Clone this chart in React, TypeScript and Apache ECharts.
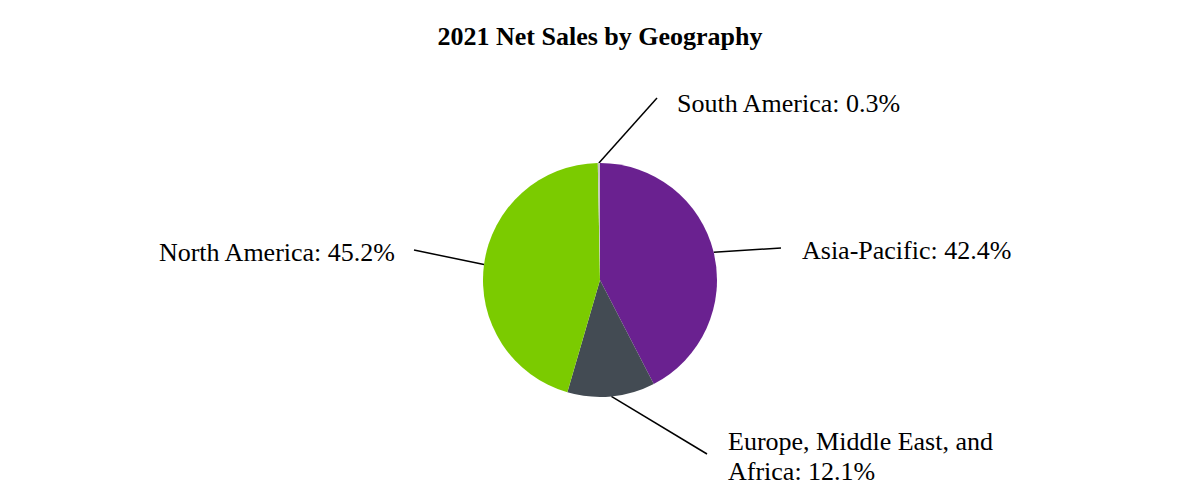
import React, { useEffect, useRef } from "react";
import * as echarts from "echarts";

const categories = ["Asia-Pacific", "Europe, Middle East, and Africa", "North America", "South America"];
const shares = [42.4, 12.1, 45.2, 0.3];
const colors = ["#6a2190", "#434b53", "#7bcb00", "#c4c4c4"];

// label anchor (end of leader line) and text position, layout only
const labelAnchors = [
  { lx: 781, ly: 248, tx: 802, ty: 250, align: "left" },
  { lx: 707, ly: 454, tx: 728, ty: 456, align: "left" },
  { lx: 414, ly: 250, tx: 395, ty: 252, align: "right" },
  { lx: 657, ly: 98, tx: 677, ty: 103, align: "left" },
];

export default function App() {
  const ref = useRef<HTMLDivElement>(null);
  useEffect(() => {
    document.body.style.margin = "0";
    const chart = echarts.init(ref.current!, null, { renderer: "svg" });
    const font = "'Liberation Serif', 'Times New Roman', serif";
    chart.setOption({
      animation: false,
      title: {
        text: "2021 Net Sales by Geography",
        left: "center",
        top: 18,
        textStyle: { fontFamily: font, fontSize: 26, fontWeight: "bold", color: "#000" },
      },
      series: [
        {
          type: "pie",
          center: [600, 280],
          radius: 117,
          startAngle: 90,
          clockwise: true,
          avoidLabelOverlap: false,
          data: categories.map((name, i) => ({
            name,
            value: shares[i],
            itemStyle: { color: colors[i] },
            label: i === 1 ? { width: 285, overflow: "break" } : {},
          })),
          label: {
            show: true,
            formatter: "{b}: {c}%",
            fontFamily: font,
            fontSize: 26,
            color: "#000",
            lineHeight: 30,
          },
          labelLine: {
            show: true,
            length: 20,
            length2: 0,
            lineStyle: { color: "#000", width: 1.5 },
          },
          labelLayout: (params: any) => {
            const a = labelAnchors[params.dataIndex];
            const start = params.labelLinePoints ? params.labelLinePoints[0] : [a.lx, a.ly];
            return {
              x: a.tx,
              y: a.ty,
              align: a.align,
              verticalAlign: "middle",
              labelLinePoints: [start, [a.lx, a.ly], [a.lx, a.ly]],
            };
          },
          emphasis: { disabled: true },
        },
      ],
    });
    return () => chart.dispose();
  }, []);
  return <div ref={ref} style={{ width: 1200, height: 500 }} />;
}
